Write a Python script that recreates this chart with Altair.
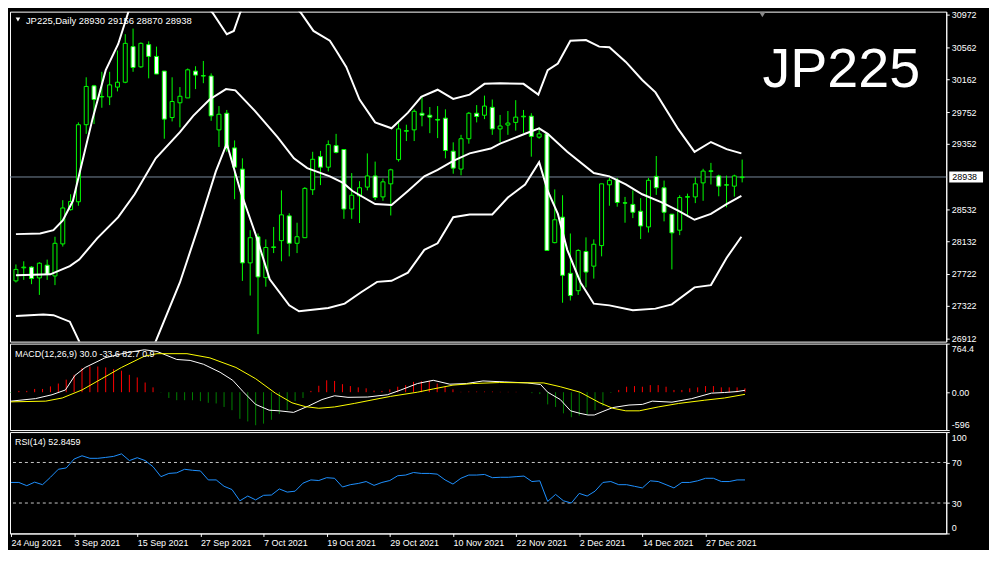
import json
import altair as alt
import pandas as pd

# ---------------- text ----------------
TITLE = "JP225,Daily  28930 29156 28870 28938"
SYMBOL = "JP225"
MACD_LABEL = "MACD(12,26,9) 30.0 -33.6 82.7 0.9"
RSI_LABEL = "RSI(14) 52.8459"

DATE_LABELS = ["24 Aug 2021", "3 Sep 2021", "15 Sep 2021", "27 Sep 2021", "7 Oct 2021",
               "19 Oct 2021", "29 Oct 2021", "10 Nov 2021", "22 Nov 2021", "2 Dec 2021",
               "14 Dec 2021", "27 Dec 2021"]
DATE_STEP = 8  # bars between date labels

PRICE_TICKS = [30972, 30562, 30162, 29752, 29352, 28532, 28132, 27722, 27322, 26912]
BID = 28938
MACD_TICKS = [-596, 0, 764.4]
MACD_TICK_LABELS = ["-596", "0.00", "764.4"]
RSI_TICKS = [0, 30, 70, 100]
RSI_LEVELS = [30, 70]

# ---------------- candles ----------------
OPEN = [27634, 27798, 27807, 27671, 27831, 27696, 28098, 28528, 28627, 29594,
        30082, 29943, 29943, 30066, 30127, 30574, 30320, 30599, 30451, 30267,
        29684, 29869, 29930, 30267, 30209, 30205, 29529, 29738, 29303, 29037,
        27860, 28188, 27675, 28053, 28139, 28450, 28106, 28176, 28778, 29193,
        29061, 29332, 29283, 28536, 28700, 28811, 28951, 28688, 28852, 29156,
        29512, 29529, 29738, 29713, 29660, 29676, 29262, 29037, 29418, 29738,
        29713, 29812, 29541, 29590, 29623, 29693, 29701, 29438, 29479, 28114,
        28434, 27729, 27511, 28003, 27819, 28077, 28840, 28897, 28614, 28594,
        28508, 28311, 28946, 28803, 28471, 28270, 28684, 28688, 28864, 29008,
        28951, 28840, 28823, 28930]
HIGH = [27840, 27880, 27819, 27868, 27901, 28188, 28647, 28721, 29623, 30189,
        30094, 30258, 30258, 30525, 30730, 30800, 30627, 30640, 30574, 30267,
        30189, 30066, 30300, 30328, 30394, 30238, 29828, 29779, 29397, 29172,
        28270, 28229, 28155, 28311, 28770, 28483, 28364, 28811, 29254, 29266,
        29397, 29479, 29283, 28987, 28885, 29234, 29131, 28918, 29041, 29623,
        29594, 29787, 29951, 29816, 29828, 29787, 29373, 29467, 29754, 29840,
        29959, 29910, 29717, 29766, 29902, 29779, 29738, 29561, 29492, 28782,
        28709, 28229, 28032, 28180, 28155, 28852, 28926, 28926, 28688, 28770,
        28672, 28926, 29201, 28893, 28471, 28709, 28729, 28934, 29041, 29115,
        28967, 28955, 28967, 29156]
LOW = [27614, 27647, 27593, 27458, 27647, 27581, 28065, 28516, 28577, 29479,
       29602, 29807, 29840, 30012, 30115, 30258, 30308, 30176, 30230, 29418,
       29635, 29561, 29930, 30041, 30115, 29643, 29315, 29254, 28659, 27634,
       27450, 26966, 27561, 27983, 27880, 27942, 27983, 28176, 28713, 28836,
       29008, 29234, 28413, 28413, 28360, 28770, 28647, 28639, 28455, 29131,
       29389, 29389, 29574, 29488, 29426, 29172, 28979, 28959, 29356, 29623,
       29664, 29467, 29377, 29467, 29520, 29492, 29193, 29418, 28016, 28106,
       27360, 27388, 27458, 27552, 27663, 27942, 28577, 28565, 28364, 28422,
       28159, 28241, 28713, 28381, 27778, 28208, 28434, 28610, 28639, 28844,
       28696, 28557, 28692, 28870]
CLOSE = [27778, 27807, 27663, 27856, 27716, 28106, 28549, 28631, 29594, 30074,
         29910, 29947, 30094, 30127, 30615, 30312, 30615, 30451, 30230, 29664,
         29885, 29951, 30283, 30217, 30205, 29705, 29725, 29295, 29061, 27860,
         28176, 27684, 28053, 28061, 28463, 28106, 28188, 28795, 29160, 29061,
         29344, 29246, 28536, 28709, 28803, 28951, 28680, 28877, 29028, 29541,
         29520, 29762, 29713, 29689, 29652, 29270, 29049, 29418, 29738, 29697,
         29828, 29541, 29578, 29615, 29689, 29701, 29447, 29479, 28016, 28401,
         27704, 27450, 28016, 27745, 28094, 28852, 28897, 28618, 28610, 28495,
         28323, 28897, 28803, 28495, 28237, 28680, 28692, 28852, 29012, 29016,
         28823, 28836, 28951, 28938]

# ---------------- Bollinger bands (bar position, price) ----------------
BB_UPPER = [(0, 28221), (3.1, 28229), (4.8, 28270), (6.0, 28393), (7.3, 28639), (8.5, 29131),
            (9.8, 29664), (11.5, 30279), (13.1, 30607), (14.4, 31009), (16, 31250), (18, 31430),
            (21, 31386), (23.5, 31170), (25.2, 30996), (27.0, 30730), (27.9, 30771), (28.7, 30996),
            (30.5, 31400), (33, 31350), (35, 31150), (36.5, 30996), (38.1, 30771), (40.2, 30648),
            (41.0, 30525), (42.3, 30320), (44.0, 29910), (46.0, 29623), (48.1, 29549), (50.2, 29746),
            (51.9, 29943), (54.0, 30033), (56.0, 29918), (58.1, 29972), (60.0, 30107), (62.0, 30115),
            (65.0, 30107), (66.9, 29972), (68.1, 30279), (69.4, 30361), (71.0, 30648), (73.0, 30656),
            (74.7, 30574), (76.0, 30566), (78.1, 30382), (80.2, 30156), (81.9, 30000), (84.8, 29541),
            (86.9, 29254), (89.0, 29377), (91.0, 29287), (92.9, 29234)]
BB_MIDDLE = [(0, 27704), (4.4, 27716), (6.9, 27819), (8.1, 27901), (10.4, 28168), (13.1, 28434),
             (15.2, 28721), (17.9, 29172), (21.0, 29500), (22.7, 29705), (24.8, 29910), (26.9, 30041),
             (28.1, 30025), (30.6, 29767), (33.5, 29439), (35.6, 29172), (37.3, 29049), (40.2, 28946),
             (41.9, 28864), (43.1, 28762), (46.0, 28598), (48.1, 28586), (50.2, 28762), (52.3, 28946),
             (54.0, 29028), (56.0, 29139), (58.1, 29234), (60.8, 29295), (62.0, 29357), (65.2, 29480),
             (67.0, 29549), (68.1, 29480), (70.6, 29254), (74.0, 28988), (76.0, 28946), (78.1, 28844),
             (80.2, 28721), (82.7, 28619), (84.8, 28516), (86.9, 28401), (89.0, 28475), (91.0, 28598),
             (92.9, 28700)]
BB_LOWER = [(0, 27192), (3.5, 27212), (4.8, 27204), (6.9, 27122), (8.1, 26876), (10, 26450),
            (12, 26280), (14, 26230), (16, 26400), (17.9, 26876), (21.0, 27614), (23.5, 28352),
            (25.6, 29008), (27.0, 29357), (28.75, 28762), (30.8, 28188), (32.5, 27655), (35.0, 27327),
            (36.25, 27253), (40.0, 27294), (42.1, 27348), (44.2, 27491), (46.25, 27622), (48.1, 27635),
            (50.2, 27737), (52.3, 28024), (54.0, 28106), (56.0, 28434), (58.1, 28467), (61.0, 28467),
            (63.0, 28680), (65.2, 28844), (67.0, 29123), (68.1, 28762), (69.4, 28475), (70.6, 28024),
            (72.3, 27614), (74.0, 27348), (76.0, 27327), (79.0, 27266), (81.9, 27286), (84.0, 27339),
            (86.9, 27553), (89.0, 27581), (91.0, 27922), (92.9, 28188)]

# ---------------- MACD ----------------
MACD_HIST = [-10, 20, 20, 51, 51, 91, 136, 197, 273, 379,
             404, 404, 389, 364, 338, 273, 232, 152, 76, -5,
             -91, -126, -126, -126, -141, -167, -177, -232, -283, -419,
             -460, -520, -495, -434, -343, -283, -141, -91, 20, 101,
             187, 177, 126, 96, 76, 61, 25, 20, 45, 86,
             111, 162, 172, 177, 136, 86, 45, 5, 10, 10,
             10, 10, 5, 5, 5, 0, -15, -30, -192, -232,
             -333, -394, -369, -359, -283, -217, -10, 35, 86, 96,
             86, 111, 111, 86, 35, 35, 61, 76, 96, 96,
             76, 76, 76, 61]
MACD_MAIN = [(0, -141), (3.1, -101), (5.2, -40), (6.9, 35), (8.1, 263), (9.4, 389), (11.9, 540),
             (14.4, 616), (16.9, 667), (18.5, 641), (21, 515), (22.7, 500), (24.4, 439), (26.5, 313),
             (28.1, 187), (29.4, 10), (31, -192), (32.7, -283), (34, -293), (35.8, -318), (37.7, -217),
             (39.4, -116), (41, -56), (42.7, -81), (45.2, -76), (47.7, -40), (49.4, 35), (51.5, 136),
             (53.5, 187), (55.6, 126), (57.7, 136), (59.8, 177), (62.5, 162), (65.4, 146), (67.1, 121),
             (68, 0), (69.6, -116), (70.9, -293), (72.1, -333), (73.1, -359), (73.9, -359), (75, -303),
             (76.25, -242), (78.3, -202), (80, -192), (81.25, -141), (83.75, -157), (86.25, -101),
             (88.75, -15), (90.4, -5), (92, 10), (93, 30)]
MACD_SIGNAL = [(0, -152), (4.4, -141), (6.5, -91), (9, 35), (11.5, 212), (14, 389), (16.9, 566),
               (18.5, 606), (22.3, 606), (25.2, 540), (28.5, 389), (31, 212), (33.5, -15), (35.6, -167),
               (37.3, -227), (39, -253), (41, -232), (43.5, -177), (46, -116), (48.1, -66), (51.5, 0),
               (53.5, 51), (56, 111), (58.5, 136), (61.9, 152), (67.5, 146), (69.6, 86), (72.1, 0),
               (74.6, -167), (76.25, -253), (77.9, -293), (79.6, -293), (82, -232), (84.6, -177),
               (87.9, -126), (90.4, -91), (93, -34)]

# ---------------- RSI ----------------
RSI = [50.3, 50.3, 47.1, 50.6, 48.1, 55.4, 63.3, 64.6, 73.4, 76.6,
       74.1, 74.1, 75.0, 76.0, 78.5, 71.9, 74.7, 71.9, 65.8, 56.0,
       59.2, 59.8, 63.3, 62.3, 61.7, 52.8, 52.8, 46.5, 43.3, 32.2,
       36.9, 33.1, 37.6, 37.9, 43.9, 40.8, 41.7, 49.6, 52.8, 52.2,
       55.0, 54.4, 45.8, 48.1, 49.3, 51.2, 47.4, 50.3, 52.2, 56.9,
       57.6, 60.1, 59.2, 59.2, 58.5, 52.8, 48.7, 54.4, 57.6, 57.6,
       58.2, 55.0, 55.4, 55.4, 56.0, 56.6, 51.2, 51.9, 31.6, 38.5,
       32.2, 30.0, 39.5, 36.9, 41.7, 50.3, 51.2, 48.1, 48.1, 46.5,
       44.9, 51.9, 51.2, 48.1, 44.9, 50.3, 50.3, 51.9, 54.4, 54.4,
       51.2, 51.2, 52.8, 52.8]

# ---------------- layout / style ----------------
W = 942
H_MAIN, H_MACD, H_RSI = 332, 87, 102
FONT = "Liberation Sans"
LIME = "#00FF00"
X_DOMAIN = [-0.125, 118.5]
PRICE_DOMAIN = [26872, 31013]

n = len(OPEN)
candles = pd.DataFrame({"i": list(range(n)), "open": OPEN, "high": HIGH, "low": LOW, "close": CLOSE})
bands = pd.DataFrame([(name, x, v) for name, pts in (("upper", BB_UPPER), ("middle", BB_MIDDLE),
                                                     ("lower", BB_LOWER)) for x, v in pts],
                     columns=["band", "i", "v"])
hist = pd.DataFrame({"i": list(range(n)), "h": MACD_HIST})
macd_main = pd.DataFrame(MACD_MAIN, columns=["i", "v"])
macd_sig = pd.DataFrame(MACD_SIGNAL, columns=["i", "v"])
rsi = pd.DataFrame({"i": list(range(n)), "r": RSI})

xs = alt.Scale(domain=X_DOMAIN, nice=False, zero=False)


def X(field, axis=None):
    return alt.X(field, type="quantitative", scale=xs, axis=axis, title=None)


y_axis_common = dict(orient="right", tickSize=3, labelPadding=2, tickColor="white",
                     domainColor="white", labelColor="white", labelFont=FONT, labelFontSize=9,
                     grid=False)


def YP(field):
    return alt.Y(field, type="quantitative",
                 scale=alt.Scale(domain=PRICE_DOMAIN, nice=False, zero=False),
                 axis=alt.Axis(values=PRICE_TICKS, format="d", **y_axis_common), title=None)


macd_expr = "''"
for v, lab in zip(MACD_TICKS, MACD_TICK_LABELS):
    macd_expr = f"abs(datum.value - ({v})) < 0.01 ? '{lab}' : ({macd_expr})"


def YM(field):
    return alt.Y(field, type="quantitative",
                 scale=alt.Scale(domain=[MACD_TICKS[0], MACD_TICKS[-1]], nice=False, zero=False),
                 axis=alt.Axis(values=MACD_TICKS, labelExpr=macd_expr, labelFlush=True,
                               labelFlushOffset=-1, **y_axis_common),
                 title=None)


def YR(field):
    return alt.Y(field, type="quantitative",
                 scale=alt.Scale(domain=[0, 100], nice=False, zero=False),
                 axis=alt.Axis(values=RSI_TICKS, format="d", labelFlush=True,
                               labelFlushOffset=-1, **y_axis_common),
                 title=None)


# ---------------- main panel ----------------
bid_df = pd.DataFrame({"p": [BID], "lab": [str(BID)]})
price_line = alt.Chart(bid_df).mark_rule(color="#778899", strokeWidth=1).encode(y=YP("p"))
wicks = alt.Chart(candles).mark_rule(color=LIME, strokeWidth=1).encode(
    x=X("i"), y=YP("low"), y2="high")
bodies = alt.Chart(candles).mark_bar(size=4, stroke=LIME, strokeWidth=1).encode(
    x=X("i"), y=YP("open"), y2="close",
    fill=alt.condition("datum.close > datum.open", alt.value("black"), alt.value("white")))
band_lines = alt.Chart(bands).mark_line(color="white", strokeWidth=2, clip=True).encode(
    x=X("i"), y=YP("v"), detail="band:N")
bid_box = alt.Chart(bid_df).mark_rule(color="white", strokeWidth=11).encode(
    y=YP("p"), x=alt.value(W + 3), x2=alt.value(W + 37))
bid_txt = alt.Chart(bid_df).mark_text(align="left", baseline="middle", color="black",
                                      font=FONT, fontSize=9).encode(
    y=YP("p"), x=alt.value(W + 6), text="lab:N")
title_df = pd.DataFrame({"t": [TITLE]})
title_txt = alt.Chart(title_df).mark_text(align="left", baseline="middle", color="white",
                                          font=FONT, fontSize=9.5).encode(
    x=alt.value(16), y=alt.value(9), text="t:N")
tri = alt.Chart(title_df).mark_point(shape="triangle-down", filled=True, color="white",
                                     size=22, opacity=1).encode(x=alt.value(8), y=alt.value(8))
shift_tri = alt.Chart(title_df).mark_point(shape="triangle-down", filled=True, color="#8a8a8a",
                                           size=40, opacity=1).encode(x=alt.value(757), y=alt.value(3))
sym_df = pd.DataFrame({"t": [SYMBOL]})
sym_txt = alt.Chart(sym_df).mark_text(align="left", baseline="alphabetic", color="white",
                                      font=FONT, fontSize=56).encode(
    x=alt.value(757), y=alt.value(76), text="t:N")

main = alt.layer(price_line, wicks, bodies, band_lines, bid_box, bid_txt, title_txt, tri,
                 shift_tri, sym_txt).properties(width=W, height=H_MAIN)

# ---------------- MACD panel ----------------
hist_bars = alt.Chart(hist).mark_rule(strokeWidth=1).encode(
    x=X("i"), y=YM("h"), y2=alt.datum(0),
    color=alt.condition("datum.h > 0", alt.value("#FF0000"), alt.value("#008000")))
macd_line = alt.Chart(macd_main).mark_line(color="white", strokeWidth=1).encode(x=X("i"), y=YM("v"))
sig_line = alt.Chart(macd_sig).mark_line(color="yellow", strokeWidth=1).encode(x=X("i"), y=YM("v"))
macd_txt = alt.Chart(pd.DataFrame({"t": [MACD_LABEL]})).mark_text(
    align="left", baseline="middle", color="white", font=FONT, fontSize=9).encode(
    x=alt.value(5), y=alt.value(10), text="t:N")
macd = alt.layer(hist_bars, macd_line, sig_line, macd_txt).properties(width=W, height=H_MACD)

# ---------------- RSI panel ----------------
x_axis = alt.Axis(values=[k * DATE_STEP for k in range(len(DATE_LABELS))],
                  labelExpr=f"{json.dumps(DATE_LABELS)}[round(datum.value / {DATE_STEP})]",
                  labelAlign="left", labelBaseline="top", labelPadding=2, tickSize=3,
                  labelOverlap=False, labelFlush=False, labelBound=False, tickColor="white",
                  domainColor="white", labelColor="white", labelFont=FONT, labelFontSize=9,
                  grid=False)
lvl = alt.Chart(pd.DataFrame({"l": RSI_LEVELS})).mark_rule(
    color="#C8C8C8", strokeDash=[3, 3], strokeWidth=1).encode(y=YR("l"))
rsi_line = alt.Chart(rsi).mark_line(color="#1E90FF", strokeWidth=1).encode(
    x=X("i", axis=x_axis), y=YR("r"))
rsi_txt = alt.Chart(pd.DataFrame({"t": [RSI_LABEL]})).mark_text(
    align="left", baseline="middle", color="white", font=FONT, fontSize=9).encode(
    x=alt.value(5), y=alt.value(10), text="t:N")
rsi_panel = alt.layer(lvl, rsi_line, rsi_txt).properties(width=W, height=H_RSI)

chart = alt.vconcat(main, macd, rsi_panel, spacing=2, bounds="flush").configure(
    background="black", padding={"left": 0, "top": 0, "right": 0, "bottom": 0}
).configure_view(stroke="white", strokeWidth=1)

chart.save("out.html", embed_options={"renderer": "svg", "actions": False})
